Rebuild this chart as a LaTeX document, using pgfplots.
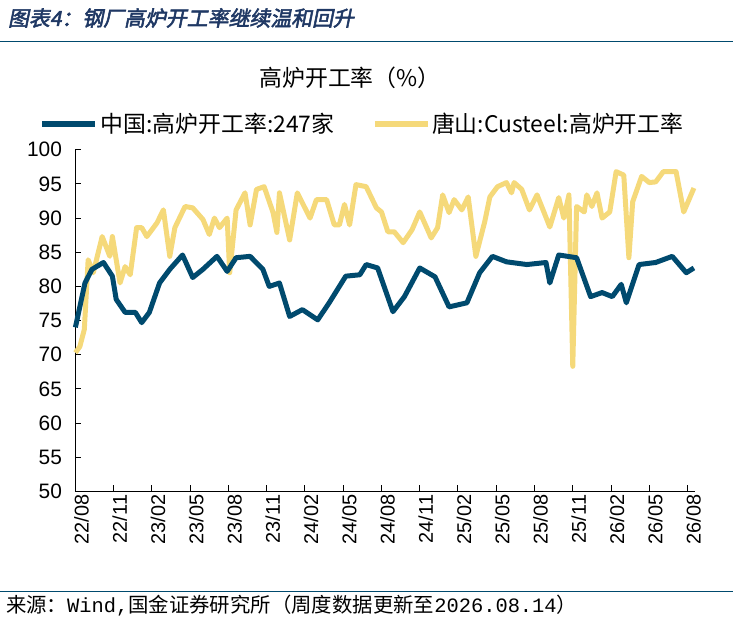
\documentclass[border=0pt]{standalone}
\usepackage{pgfplots}
\pgfplotsset{compat=1.18}
\usepackage{fontspec}
\setmainfont{Liberation Sans}
\newfontfamily\cjk{Noto Sans CJK SC}
\newfontfamily\cjkit[FakeSlant=0.2,FakeBold=2.5]{Noto Sans CJK SC}
\newfontfamily\mono{Liberation Mono}
\definecolor{dblue}{HTML}{004A6E}
\definecolor{ylw}{HTML}{F5D97A}
\definecolor{ttl}{HTML}{1F3864}
\begin{document}
\begin{tikzpicture}[x=1bp,y=1bp]
\begin{axis}[at={(0,0)},anchor=south west,scale only axis,width=620bp,height=342bp,
 xmin=0,xmax=48.55,ymin=50,ymax=100,
 axis x line=bottom,axis y line=left,axis line style={-,line width=1.2bp},
 xtick={0,3,...,48},
 xticklabels={22/08,22/11,23/02,23/05,23/08,23/11,24/02,24/05,24/08,24/11,25/02,25/05,25/08,25/11,26/02,26/05,26/08},
 xticklabel style={rotate=90,anchor=east,font=\fontsize{20}{20}\selectfont,yshift=-6bp},
 ytick={50,55,...,100},
 yticklabel style={font=\fontsize{21}{21}\selectfont,xshift=-10bp},
 /pgf/number format/assume math mode=true,
 tick align=inside,major tick length=6bp,tick style={black,line width=1bp},
 clip=false]
\addplot[ylw,line width=5bp,line join=round] coordinates {
(0,70.3)(0.35,71.2)(0.7,73.7)(1.0,83.9)(1.4,82)(2.1,87.3)(2.7,84.4)(2.9,87.3)(3.5,80.5)(3.9,82.9)(4.3,81.7)(4.8,88.6)(5.2,88.6)(5.6,87.3)(6.4,89.3)(6.9,91.2)(7.4,84.4)(7.8,88.6)(8.6,91.7)(9.2,91.5)(10.0,89.8)(10.5,87.6)(10.9,90)(11.3,88.6)(11.9,90)(12.1,82)(12.6,91.2)(13.3,93.7)(13.7,89)(14.2,94.2)(14.8,94.6)(15.5,90.8)(15.8,87.9)(16.0,93.7)(16.8,86.8)(17.4,93.7)(18.4,90)(18.9,92.7)(19.7,92.7)(20.3,89)(20.7,89)(21.1,92)(21.5,89)(22.0,94.9)(22.8,94.6)(23.6,91.5)(24.0,90.9)(24.5,88)(25.0,88)(25.7,86.4)(26.4,88.3)(27.0,90.9)(27.9,87.1)(28.4,88.6)(28.8,93.4)(29.3,90.8)(29.7,92.7)(30.3,91.2)(30.8,93.1)(31.4,84.4)(32.1,89.5)(32.5,93.1)(33.1,94.6)(33.8,95.2)(34.2,93.7)(34.4,95.2)(35.0,94.2)(35.6,91.2)(36.2,93.4)(37.2,88.7)(37.9,93)(38.3,90)(38.7,93.4)(39.0,68.3)(39.3,91.7)(39.9,90.9)(40.1,93.4)(40.5,91.7)(40.9,93.7)(41.3,90)(41.9,90.9)(42.4,96.8)(43.0,96.3)(43.4,84.2)(43.7,92.4)(44.4,96.1)(45.0,95.2)(45.5,95.3)(46.1,96.8)(47.1,96.8)(47.7,90.9)(48.5,94.4)};
\addplot[dblue,line width=5bp,line join=round] coordinates {
(0,74)(0.75,80.5)(1.3,82.5)(2.2,83.5)(2.9,81.5)(3.2,78.1)(3.9,76.2)(4.7,76.2)(5.2,74.7)(5.8,76.2)(6.6,80.5)(7.4,82.5)(8.4,84.6)(9.2,81.3)(10.0,82.5)(11.1,84.4)(11.9,82.2)(12.6,84.2)(13.7,84.4)(14.7,82.5)(15.2,80)(16.0,80.5)(16.8,75.6)(17.8,76.6)(19.0,75.1)(19.9,77.6)(21.2,81.5)(22.3,81.7)(22.8,83.2)(23.7,82.7)(24.9,76.3)(25.8,78.5)(27.0,82.7)(28.2,81.4)(29.3,77)(30.7,77.6)(31.7,82)(32.7,84.4)(33.8,83.6)(35.4,83.2)(36.9,83.5)(37.2,80.5)(37.9,84.6)(39.3,84.2)(40.4,78.5)(41.3,79.1)(42.1,78.5)(42.8,80.3)(43.2,77.6)(44.2,83.2)(45.5,83.5)(46.8,84.4)(47.9,82)(48.5,82.7)};
\end{axis}
\begin{scope}[shift={(-75,492)}]
\path (0,0) rectangle (733,-619);
\node[anchor=west,text=ttl,font=\cjkit\fontsize{21}{21}\selectfont] at (4,-18) {图表4：钢厂高炉开工率继续温和回升};
\draw[dblue,line width=1bp] (0,-42) -- (733,-42);
\draw[dblue,line width=1bp] (0,-592) -- (733,-592);
\node[anchor=west,font=\cjk\fontsize{20.5}{20.5}\selectfont] at (2,-606) {来源：{\mono Wind,}国金证券研究所（周度数据更新至{\mono 2026.08.14}）};
\node[font=\cjk\fontsize{23}{23}\selectfont] at (350,-78) {高炉开工率（\%）};
\draw[dblue,line width=6bp] (42,-124) -- (95,-124);
\node[anchor=west,font=\cjk\fontsize{23}{23}\selectfont,inner sep=1bp] at (99,-124) {中国:高炉开工率:247家};
\draw[ylw,line width=6bp] (375,-124) -- (428,-124);
\node[anchor=west,font=\cjk\fontsize{23}{23}\selectfont,inner sep=1bp] at (431,-124) {唐山:Custeel:高炉开工率};
\end{scope}
\end{tikzpicture}
\end{document}
